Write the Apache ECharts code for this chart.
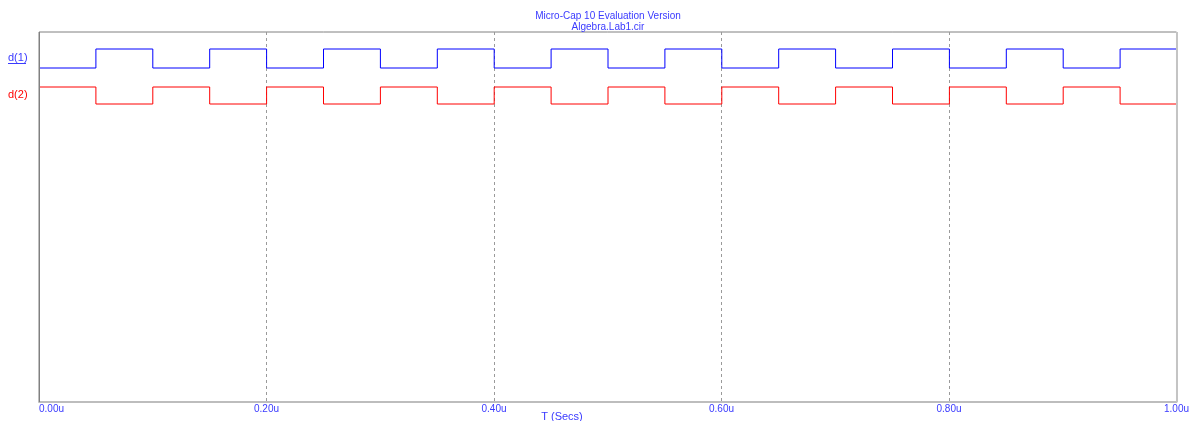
<!DOCTYPE html>
<html>
<head>
<meta charset="utf-8">
<script src="https://cdn.jsdelivr.net/npm/echarts@6/dist/echarts.min.js"></script>
<style>html,body{margin:0;padding:0;background:#fff}#c{width:1192px;height:421px}</style>
</head>
<body>
<div id="c"></div>
<script>
var titleLines = ['Micro-Cap 10 Evaluation Version', 'Algebra.Lab1.cir'];
var xTicks = [0, 0.2, 0.4, 0.6, 0.8, 1.0];
var times = [0, 0.05, 0.10, 0.15, 0.20, 0.25, 0.30, 0.35, 0.40, 0.45, 0.50,
             0.55, 0.60, 0.65, 0.70, 0.75, 0.80, 0.85, 0.90, 0.95, 1.00];
var d1 = [0, 1, 0, 1, 0, 1, 0, 1, 0, 1, 0, 1, 0, 1, 0, 1, 0, 1, 0, 1, 0];
var d2 = [1, 0, 1, 0, 1, 0, 1, 0, 1, 0, 1, 0, 1, 0, 1, 0, 1, 0, 1, 0, 1];
var seriesNames = ['d(1)', 'd(2)'];
var xName = 'T (Secs)';

var FONT = 'Liberation Sans';
var BLUE = '#0000ff', RED = '#ff0000', TXT = '#3a3aff';
function pairs(v) { return times.map(function (t, i) { return [t, v[i]]; }); }

var chart = echarts.init(document.getElementById('c'), null, {renderer: 'canvas'});
var L = 39, W = 1138;
chart.setOption({
  animation: false,
  grid: [
    {left: L, top: 32, width: W, height: 370, show: true, borderColor: '#808080', borderWidth: 1, backgroundColor: 'transparent'},
    {left: L, top: 49, width: W, height: 19},
    {left: L, top: 87, width: W, height: 17}
  ],
  xAxis: [
    {gridIndex: 0, type: 'value', min: 0, max: 1, interval: 0.2,
     axisLine: {show: true, lineStyle: {color: '#bdbdbd', width: 2}},
     axisTick: {show: false},
     axisLabel: {color: TXT, fontFamily: FONT, fontSize: 10, margin: 2, alignMinLabel: 'left',
       formatter: function (v) { return v.toFixed(2) + 'u'; }},
     splitLine: {show: true, lineStyle: {color: '#9a9a9a', type: [3, 3], width: 1}}},
    {gridIndex: 1, type: 'value', min: 0, max: 1, show: false},
    {gridIndex: 2, type: 'value', min: 0, max: 1, show: false}
  ],
  yAxis: [
    {gridIndex: 0, type: 'value', min: 0, max: 1, show: false},
    {gridIndex: 1, type: 'value', min: 0, max: 1, show: false},
    {gridIndex: 2, type: 'value', min: 0, max: 1, show: false}
  ],
  series: [
    {name: seriesNames[0], type: 'line', xAxisIndex: 1, yAxisIndex: 1, step: 'end', symbol: 'none',
     data: pairs(d1), lineStyle: {color: BLUE, width: 1}, clip: false},
    {name: seriesNames[1], type: 'line', xAxisIndex: 2, yAxisIndex: 2, step: 'end', symbol: 'none',
     data: pairs(d2), lineStyle: {color: RED, width: 1}, clip: false}
  ],
  graphic: [
    {type: 'line', shape: {x1: L + W, y1: 32, x2: L + W, y2: 402}, style: {stroke: '#c4c4c4', lineWidth: 2}, z: 10},
    {type: 'line', shape: {x1: L + 0.5, y1: 32, x2: L + 0.5, y2: 402}, style: {stroke: '#808080', lineWidth: 1}, z: 10},
    {type: 'text', x: 608, y: 11, style: {text: titleLines[0], fill: TXT, font: '10px ' + FONT, textAlign: 'center'}, z: 20},
    {type: 'text', x: 608, y: 22, style: {text: titleLines[1], fill: TXT, font: '10px ' + FONT, textAlign: 'center'}, z: 20},
    {type: 'text', x: 8, y: 52, style: {text: seriesNames[0], fill: TXT, font: '11px ' + FONT}, z: 20},
    {type: 'line', shape: {x1: 8, y1: 63.5, x2: 26, y2: 63.5}, style: {stroke: TXT, lineWidth: 1}, z: 20},
    {type: 'text', x: 8, y: 89, style: {text: seriesNames[1], fill: RED, font: '11px ' + FONT}, z: 20},
    {type: 'text', x: 562, y: 411, style: {text: xName, fill: TXT, font: '11px ' + FONT, textAlign: 'center'}, z: 20}
  ]
});
</script>
</body>
</html>
